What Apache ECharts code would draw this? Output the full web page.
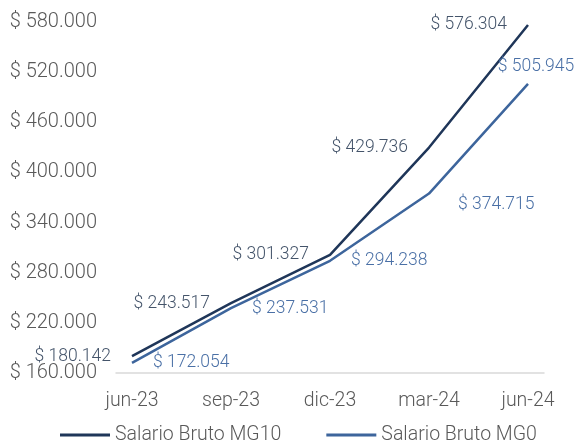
<!DOCTYPE html>
<html>
<head>
<meta charset="utf-8">
<script src="https://cdn.jsdelivr.net/npm/echarts@6/dist/echarts.min.js"></script>
<style>
  html, body { margin: 0; padding: 0; background: #fff; }
  #chart { width: 578px; height: 440px; }
</style>
</head>
<body>
<div id="chart"></div>
<script>
var categories = ['jun-23', 'sep-23', 'dic-23', 'mar-24', 'jun-24'];
var mg10 = [180142, 243517, 301327, 429736, 576304];
var mg0 = [172054, 237531, 294238, 374715, 505945];
var yTicks = [160000, 220000, 280000, 340000, 400000, 460000, 520000, 580000];

// formato $ 123.456
function money(v) {
  return '$ ' + String(Math.round(v)).replace(/\B(?=(\d{3})+(?!\d))/g, '.');
}

var fontName = 'Roboto';
var darkLine = '#1f3659';
var blueLine = '#3d659c';

var myChart = echarts.init(document.getElementById('chart'));

var dataMG10 = mg10.map(function (v, i) {
  return { value: [i, v] };
});
var dataMG0 = mg0.map(function (v, i) {
  var item = { value: [i, v] };
  if (i === 3) item.label = { position: 'right', distance: 29, offset: [0, 11] };
  if (i === 4) item.label = { position: 'top', distance: 8, offset: [8, 0] };
  return item;
});

var option = {
  animation: false,
  textStyle: { fontFamily: fontName },
  grid: { left: 116, right: 34, top: 22, bottom: 67 },
  legend: {
    left: 55,
    top: 420,
    icon: 'rect',
    itemWidth: 50,
    itemHeight: 3,
    itemGap: 45,
    textStyle: { color: '#595959', fontSize: 19.5, fontWeight: 300, fontFamily: fontName },
    data: ['Salario Bruto MG10', 'Salario Bruto MG0']
  },
  xAxis: {
    type: 'value',
    min: -0.1616,
    max: 4.1616,
    axisLine: { show: true, lineStyle: { color: '#d9d9d9', width: 1.5 } },
    axisTick: { show: false },
    splitLine: { show: false },
    axisLabel: {
      customValues: [0, 1, 2, 3, 4],
      margin: 18,
      color: '#595959',
      fontSize: 19.5,
      fontWeight: 300,
      formatter: function (v) { return categories[Math.round(v)]; }
    }
  },
  yAxis: {
    type: 'value',
    min: yTicks[0],
    max: yTicks[yTicks.length - 1],
    interval: 60000,
    axisLine: { show: false },
    axisTick: { show: false },
    splitLine: { show: false },
    axisLabel: {
      margin: 19,
      color: '#595959',
      fontSize: 20,
      fontWeight: 300,
      formatter: money
    }
  },
  series: [
    {
      name: 'Salario Bruto MG10',
      type: 'line',
      symbol: 'circle',
      symbolSize: 0.1,
      lineStyle: { color: darkLine, width: 2.5 },
      itemStyle: { color: darkLine },
      label: {
        show: true,
        position: 'left',
        distance: 21,
        color: '#44546a',
        fontSize: 17.5,
        fontWeight: 300,
        formatter: function (p) { return money(p.value[1]); }
      },
      data: dataMG10
    },
    {
      name: 'Salario Bruto MG0',
      type: 'line',
      symbol: 'circle',
      symbolSize: 0.1,
      lineStyle: { color: blueLine, width: 2.5 },
      itemStyle: { color: blueLine },
      label: {
        show: true,
        position: 'right',
        distance: 21,
        color: '#4a70a6',
        fontSize: 17.5,
        fontWeight: 300,
        formatter: function (p) { return money(p.value[1]); }
      },
      data: dataMG0
    }
  ]
};

myChart.setOption(option);
window.onresize = function () { myChart.resize(); };
</script>
</body>
</html>
